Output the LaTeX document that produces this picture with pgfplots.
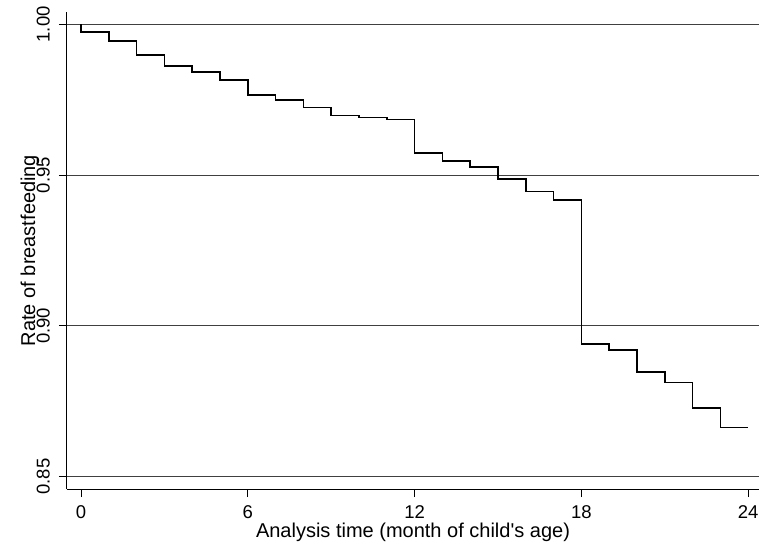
\documentclass[border=0pt]{standalone}
\usepackage{fontspec}
\setmainfont{Liberation Sans}
\usepackage{pgfplots}
\pgfplotsset{compat=1.18}
\begin{document}
\begin{tikzpicture}
\begin{axis}[
  at={(0,0)}, anchor=south west,
  scale only axis, width=692pt, height=477pt,
  xmin=-0.504, xmax=24.39, ymin=0.8459, ymax=1.0041,
  axis x line*=bottom, axis y line*=left,
  axis line style={black, line width=1pt, -},
  xtick={0,6,12,18,24}, ytick={0.85,0.90,0.95,1.00},
  tick align=outside, major tick length=8pt,
  tick style={black, line width=1pt},
  ymajorgrids, major grid style={black!75, line width=1pt},
  /pgf/number format/assume math mode=true,
  tick label style={font=\fontsize{18.5}{20}\selectfont},
  yticklabel style={rotate=90, anchor=south, inner sep=0pt,
    /pgf/number format/.cd, fixed, fixed zerofill, precision=2},
  yticklabel shift=9pt,
  xticklabel style={anchor=north, inner sep=0pt},
  xticklabel shift=8pt,
  xlabel={Analysis time (month of child\textquotesingle s age)},
  ylabel={Rate of breastfeeding},
  label style={font=\fontsize{20}{22}\selectfont},
  xlabel style={inner sep=0pt, at={(axis description cs:0.5,-0.0703)}, anchor=north},
  ylabel style={inner sep=0pt, at={(axis description cs:-0.0535,0.5)}, anchor=center, rotate=0},
]
\addplot[const plot, black, line width=1.6pt] coordinates {
(0,1.0) (0,0.99755) (1,0.99446) (2,0.98992) (3,0.98627) (4,0.98428)
(5,0.98153) (6,0.97656) (7,0.97500) (8,0.97241) (9,0.96983)
(10,0.96916) (11,0.96850) (12,0.95733) (13,0.95468) (14,0.95279)
(15,0.94871) (16,0.94463) (17,0.94168) (18,0.89406) (19,0.89201)
(20,0.88461) (21,0.88117) (22,0.87278) (23,0.86625) (24,0.86625)
};
\end{axis}
\pgfresetboundingbox
\path[use as bounding box] (-67pt,-58pt) rectangle (692pt,489pt);
\end{tikzpicture}
\end{document}
